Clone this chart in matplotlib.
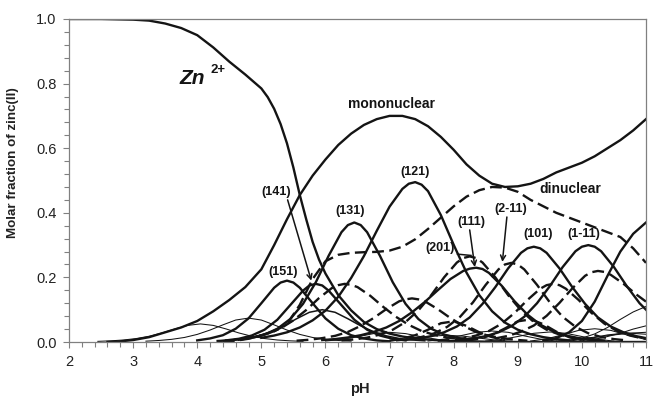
import matplotlib
matplotlib.use('Agg')
import matplotlib.pyplot as plt
from matplotlib.ticker import MultipleLocator

plt.rcParams['font.family'] = ['Liberation Sans', 'DejaVu Sans']

# ---- totals ----
ph_zn = [2.0, 2.5, 3.0, 3.25, 3.5, 3.75, 4.0, 4.25, 4.5, 4.75, 5.0, 5.1, 5.2, 5.3, 5.4, 5.5,
         5.6, 5.7, 5.8, 5.9, 6.0, 6.2, 6.4, 6.6, 6.8, 7.0, 7.2, 7.4, 7.7, 8.0, 8.5, 9.0, 11.0]
zn = [1.0, 1.0, 0.998, 0.995, 0.986, 0.972, 0.95, 0.912, 0.868, 0.828, 0.785, 0.758, 0.722,
      0.675, 0.615, 0.54, 0.455, 0.38, 0.31, 0.255, 0.212, 0.145, 0.098, 0.062, 0.04, 0.026,
      0.017, 0.011, 0.006, 0.003, 0.001, 0.0, 0.0]

ph_mono = [2.6, 2.8, 3.0, 3.25, 3.5, 3.75, 4.0, 4.25, 4.5, 4.75, 5.0, 5.2, 5.4, 5.6, 5.8, 6.0,
           6.2, 6.4, 6.6, 6.8, 7.0, 7.2, 7.4, 7.6, 7.8, 8.0, 8.2, 8.4, 8.6, 8.8, 9.0, 9.2, 9.4,
           9.6, 9.8, 10.0, 10.2, 10.4, 10.6, 10.8, 11.0]
mono = [0.0, 0.002, 0.006, 0.015, 0.03, 0.045, 0.065, 0.095, 0.13, 0.17, 0.225, 0.30, 0.38,
        0.455, 0.515, 0.565, 0.61, 0.645, 0.672, 0.69, 0.70, 0.70, 0.69, 0.668, 0.635, 0.595,
        0.55, 0.515, 0.49, 0.48, 0.482, 0.49, 0.505, 0.525, 0.54, 0.555, 0.575, 0.60, 0.625,
        0.655, 0.69]

ph_di = [4.4, 4.6, 4.8, 5.0, 5.2, 5.4, 5.6, 5.8, 6.0, 6.2, 6.4, 6.6, 6.8, 7.0, 7.2, 7.4, 7.6,
         7.8, 8.0, 8.2, 8.4, 8.6, 8.8, 9.0, 9.2, 9.4, 9.6, 9.8, 10.0, 10.2, 10.4, 10.6, 10.8, 11.0]
di = [0.0, 0.004, 0.01, 0.02, 0.033, 0.055, 0.115, 0.195, 0.25, 0.27, 0.276, 0.278, 0.279,
      0.283, 0.295, 0.318, 0.35, 0.385, 0.42, 0.45, 0.47, 0.48, 0.478, 0.465, 0.44, 0.42, 0.40,
      0.385, 0.37, 0.355, 0.34, 0.325, 0.29, 0.245]

# ---- mononuclear species (thick solid) ----
ph_151 = [4.0, 4.2, 4.4, 4.6, 4.8, 5.0, 5.2, 5.3, 5.4, 5.5, 5.6, 5.8, 6.0, 6.2, 6.4, 6.6, 6.8, 7.0]
f_151 = [0.005, 0.011, 0.021, 0.041, 0.073, 0.12, 0.168, 0.184, 0.19, 0.184, 0.168, 0.12,
         0.073, 0.041, 0.021, 0.011, 0.005, 0.002]

ph_141 = [4.45, 4.65, 4.85, 5.05, 5.25, 5.45, 5.65, 5.75, 5.85, 5.95, 6.05, 6.25, 6.45, 6.65,
          6.85, 7.05, 7.25]
f_141 = [0.005, 0.01, 0.02, 0.038, 0.069, 0.114, 0.159, 0.175, 0.18, 0.175, 0.159, 0.114,
         0.069, 0.038, 0.02, 0.01, 0.005]

ph_131 = [4.65, 4.85, 5.05, 5.25, 5.45, 5.65, 5.85, 6.05, 6.25, 6.35, 6.45, 6.55, 6.65, 6.85,
          7.05, 7.25, 7.45, 7.65, 7.85, 8.05, 8.25]
f_131 = [0.007, 0.013, 0.023, 0.041, 0.071, 0.118, 0.185, 0.267, 0.34, 0.362, 0.37, 0.362,
         0.34, 0.267, 0.185, 0.118, 0.071, 0.041, 0.023, 0.013, 0.007]

ph_121 = [5.0, 5.2, 5.4, 5.6, 5.8, 6.0, 6.2, 6.4, 6.6, 6.8, 7.0, 7.2, 7.3, 7.4, 7.5, 7.6, 7.8,
          8.0, 8.2, 8.4, 8.6, 8.8, 9.0, 9.2, 9.4, 9.6, 9.8]
f_121 = [0.013, 0.02, 0.03, 0.045, 0.067, 0.097, 0.14, 0.198, 0.266, 0.344, 0.419, 0.474,
         0.49, 0.495, 0.487, 0.467, 0.393, 0.301, 0.215, 0.145, 0.095, 0.06, 0.038, 0.024,
         0.015, 0.009, 0.005]

ph_111 = [5.95, 6.15, 6.35, 6.55, 6.75, 6.95, 7.15, 7.35, 7.55, 7.75, 7.95, 8.15, 8.25, 8.35,
          8.45, 8.55, 8.75, 8.95, 9.15, 9.35, 9.55, 9.75, 9.95, 10.15, 10.35]
f_111 = [0.006, 0.009, 0.014, 0.021, 0.031, 0.045, 0.065, 0.092, 0.124, 0.16, 0.195, 0.22,
         0.227, 0.23, 0.226, 0.214, 0.174, 0.126, 0.085, 0.054, 0.033, 0.02, 0.012, 0.007, 0.004]

ph_101 = [7.25, 7.45, 7.65, 7.85, 8.05, 8.25, 8.45, 8.65, 8.85, 9.05, 9.15, 9.25, 9.35, 9.45,
          9.65, 9.85, 10.05, 10.25, 10.45, 10.65, 10.85, 11.0]
f_101 = [0.0065, 0.011, 0.018, 0.03, 0.048, 0.076, 0.118, 0.17, 0.228, 0.276, 0.29, 0.295,
         0.29, 0.276, 0.228, 0.17, 0.118, 0.076, 0.048, 0.03, 0.018, 0.012]

ph_1m11 = [8.1, 8.3, 8.5, 8.7, 8.9, 9.1, 9.3, 9.5, 9.7, 9.9, 10.0, 10.1, 10.2, 10.3, 10.5,
           10.7, 10.9, 11.0]
f_1m11 = [0.007, 0.011, 0.018, 0.03, 0.049, 0.078, 0.12, 0.173, 0.232, 0.281, 0.295, 0.30,
          0.295, 0.281, 0.232, 0.173, 0.12, 0.10]

ph_1m21 = [9.4, 9.6, 9.8, 10.0, 10.2, 10.4, 10.6, 10.8, 11.0]
f_1m21 = [0.004, 0.012, 0.03, 0.065, 0.125, 0.205, 0.28, 0.335, 0.37]

# ---- dinuclear species (thick dashed) ----
ph_d1 = [4.3, 4.5, 4.7, 4.9, 5.1, 5.3, 5.5, 5.7, 5.9, 6.1, 6.2, 6.3, 6.4, 6.5, 6.7, 6.9, 7.1,
         7.3, 7.5, 7.7, 7.9, 8.1, 8.3]
f_d1 = [0.003, 0.005, 0.009, 0.015, 0.026, 0.042, 0.067, 0.099, 0.136, 0.167, 0.176, 0.18,
        0.177, 0.17, 0.143, 0.109, 0.078, 0.053, 0.034, 0.022, 0.014, 0.009, 0.005]

ph_d2 = [5.55, 5.75, 5.95, 6.15, 6.35, 6.55, 6.75, 6.95, 7.15, 7.25, 7.35, 7.45, 7.55, 7.75,
         7.95, 8.15, 8.35, 8.55, 8.75, 8.95, 9.15]
f_d2 = [0.004, 0.007, 0.012, 0.019, 0.031, 0.05, 0.074, 0.102, 0.126, 0.132, 0.135, 0.132,
        0.126, 0.102, 0.074, 0.05, 0.031, 0.019, 0.012, 0.007, 0.004]

ph_201 = [6.25, 6.45, 6.65, 6.85, 7.05, 7.25, 7.45, 7.65, 7.85, 8.05, 8.15, 8.25, 8.35, 8.45,
          8.65, 8.85, 9.05, 9.25, 9.45, 9.65, 9.85, 10.05, 10.25]
f_201 = [0.005, 0.008, 0.0135, 0.023, 0.038, 0.062, 0.098, 0.145, 0.2, 0.246, 0.26, 0.265,
         0.26, 0.246, 0.2, 0.145, 0.098, 0.062, 0.038, 0.023, 0.0135, 0.008, 0.005]

ph_2m11 = [7.1, 7.3, 7.5, 7.7, 7.9, 8.1, 8.3, 8.5, 8.7, 8.8, 8.9, 9.0, 9.1, 9.3, 9.5, 9.7, 9.9,
           10.1, 10.3, 10.5, 10.7]
f_2m11 = [0.005, 0.009, 0.0155, 0.027, 0.047, 0.078, 0.1225, 0.177, 0.225, 0.24, 0.245, 0.24,
          0.225, 0.177, 0.1225, 0.078, 0.047, 0.027, 0.0155, 0.009, 0.005]

ph_d5 = [7.75, 7.95, 8.15, 8.35, 8.55, 8.75, 8.95, 9.15, 9.35, 9.45, 9.55, 9.65, 9.75, 9.95,
         10.15, 10.35, 10.55, 10.75, 10.95, 11.0]
f_d5 = [0.004, 0.006, 0.011, 0.02, 0.034, 0.057, 0.09, 0.13, 0.165, 0.176, 0.18, 0.176, 0.165,
        0.13, 0.09, 0.057, 0.034, 0.02, 0.011, 0.01]

ph_d6 = [8.65, 8.85, 9.05, 9.25, 9.45, 9.65, 9.85, 10.05, 10.15, 10.25, 10.35, 10.45, 10.65,
         10.85, 11.0]
f_d6 = [0.011, 0.019, 0.032, 0.051, 0.081, 0.121, 0.166, 0.205, 0.216, 0.22, 0.217, 0.208,
        0.18, 0.147, 0.125]

ph_d7 = [7.0, 7.2, 7.4, 7.6, 7.8, 8.0, 8.2, 8.4, 8.6, 8.8]
f_d7 = [0.004, 0.01, 0.021, 0.038, 0.058, 0.064, 0.05, 0.03, 0.015, 0.006]

ph_d8 = [8.2, 8.4, 8.6, 8.8, 9.0, 9.2, 9.4, 9.6, 9.8, 10.0]
f_d8 = [0.004, 0.01, 0.022, 0.042, 0.064, 0.07, 0.055, 0.032, 0.015, 0.006]

# ---- minor species (thin solid) ----
ph_t1 = [2.45, 2.65, 2.85, 3.05, 3.25, 3.45, 3.65, 3.85, 4.05, 4.25, 4.45, 4.65, 4.85, 5.05,
         5.25, 5.45, 5.65]
f_t1 = [0.002, 0.0036, 0.0062, 0.0107, 0.0178, 0.028, 0.0404, 0.0514, 0.056, 0.0514, 0.0404,
        0.028, 0.0178, 0.0107, 0.0062, 0.0036, 0.002]

ph_t2 = [3.2, 3.4, 3.6, 3.8, 4.0, 4.2, 4.4, 4.6, 4.8, 5.0, 5.2, 5.4, 5.6, 5.8, 6.0, 6.2, 6.4]
f_t2 = [0.0026, 0.0047, 0.0082, 0.014, 0.0235, 0.037, 0.053, 0.068, 0.074, 0.068, 0.053,
        0.037, 0.0235, 0.014, 0.0082, 0.0047, 0.0026]

ph_t3 = [4.35, 4.55, 4.75, 4.95, 5.15, 5.35, 5.55, 5.75, 5.95, 6.15, 6.35, 6.55, 6.75, 6.95,
         7.15, 7.35, 7.55]
f_t3 = [0.0036, 0.0063, 0.011, 0.019, 0.032, 0.05, 0.072, 0.092, 0.10, 0.092, 0.072, 0.05,
        0.032, 0.019, 0.011, 0.0063, 0.0036]

ph_t4 = [6.0, 6.25, 6.5, 6.75, 7.0, 7.25, 7.5, 7.75, 8.0]
f_t4 = [0.003, 0.008, 0.016, 0.026, 0.03, 0.026, 0.016, 0.008, 0.003]
ph_t5 = [6.9, 7.15, 7.4, 7.65, 7.9, 8.15, 8.4, 8.65, 8.9]
f_t5 = [0.002, 0.006, 0.012, 0.018, 0.021, 0.018, 0.012, 0.006, 0.002]
ph_t6 = [7.6, 7.85, 8.1, 8.35, 8.6, 8.85, 9.1, 9.35, 9.6]
f_t6 = [0.003, 0.009, 0.019, 0.03, 0.034, 0.03, 0.019, 0.009, 0.003]
ph_t7 = [8.5, 8.75, 9.0, 9.25, 9.5, 9.75, 10.0, 10.25, 10.5]
f_t7 = [0.003, 0.008, 0.017, 0.027, 0.031, 0.027, 0.017, 0.008, 0.003]
ph_t8 = [9.2, 9.45, 9.7, 9.95, 10.2, 10.45, 10.7, 10.95, 11.0]
f_t8 = [0.003, 0.01, 0.022, 0.036, 0.041, 0.036, 0.022, 0.01, 0.008]
ph_t9 = [9.8, 10.0, 10.2, 10.4, 10.6, 10.8, 11.0]
f_t9 = [0.005, 0.012, 0.025, 0.045, 0.07, 0.093, 0.11]
ph_t10 = [10.0, 10.3, 10.6, 10.8, 11.0]
f_t10 = [0.004, 0.012, 0.027, 0.04, 0.05]
ph_t11 = [9.6, 9.9, 10.2, 10.5, 10.8, 11.0]
f_t11 = [0.003, 0.008, 0.015, 0.022, 0.028, 0.03]
ph_t12 = [9.8, 10.1, 10.4, 10.7, 11.0]
f_t12 = [0.003, 0.01, 0.022, 0.028, 0.024]

# labels: (text, pH, fraction)
species_labels = [('(151)', 5.34, 0.217), ('(141)', 5.235, 0.464), ('(131)', 6.38, 0.406),
                  ('(121)', 7.40, 0.526), ('(201)', 7.79, 0.291), ('(111)', 8.27, 0.372),
                  ('(2-11)', 8.89, 0.412), ('(101)', 9.31, 0.334), ('(1-11)', 10.03, 0.334)]
# arrows: (from, to)
arrows = [((5.41, 0.44), (5.78, 0.19)), ((8.25, 0.347), (8.33, 0.232)),
          ((8.83, 0.387), (8.76, 0.248))]

thin_curves = [(ph_t1, f_t1), (ph_t2, f_t2), (ph_t4, f_t4), (ph_t5, f_t5), (ph_t6, f_t6),
               (ph_t7, f_t7), (ph_t8, f_t8), (ph_t9, f_t9), (ph_t10, f_t10),
               (ph_t11, f_t11), (ph_t12, f_t12)]
dashed_curves = [(ph_di, di), (ph_d1, f_d1), (ph_d2, f_d2), (ph_201, f_201), (ph_2m11, f_2m11),
                 (ph_d5, f_d5), (ph_d6, f_d6), (ph_d7, f_d7), (ph_d8, f_d8)]
solid_curves = [(ph_zn, zn), (ph_mono, mono), (ph_151, f_151), (ph_141, f_141),
                (ph_131, f_131), (ph_121, f_121), (ph_111, f_111), (ph_101, f_101),
                (ph_1m11, f_1m11), (ph_1m21, f_1m21)]

ink = '#141414'
frame = '#808080'

fig = plt.figure(figsize=(6.55, 4.0), dpi=100)
ax = fig.add_axes([69 / 655, 58 / 400, 577 / 655, 323 / 400])

for x, y in thin_curves:
    ax.plot(x, y, color=ink, lw=0.75)
ax.plot(ph_t3, f_t3, color=ink, lw=1.1)
for x, y in dashed_curves:
    ax.plot(x, y, color=ink, lw=1.7, linestyle=(0, (5, 2.3)))
for x, y in solid_curves:
    ax.plot(x, y, color=ink, lw=1.7)

ax.set_xlim(2, 11)
ax.set_ylim(0, 1)
ax.xaxis.set_major_locator(MultipleLocator(1))
ax.xaxis.set_minor_locator(MultipleLocator(0.2))
ax.yaxis.set_major_locator(MultipleLocator(0.2))
ax.yaxis.set_minor_locator(MultipleLocator(0.04))
ax.yaxis.set_major_formatter(lambda v, p: f'{v:.1f}')
ax.tick_params(which='both', direction='out', color=frame, width=0.8, labelsize=10.5,
               labelcolor='#222222')
ax.tick_params(which='major', length=4)
ax.tick_params(which='minor', length=3.5)
ax.tick_params(axis='x', pad=5)
ax.tick_params(axis='y', pad=5)
for s in ax.spines.values():
    s.set_color(frame)
    s.set_linewidth(0.9)

fig.text(13 / 655, 1 - 163 / 400, 'Molar fraction of zinc(II)', rotation=90,
         ha='center', va='center', fontsize=9.6, fontweight='bold', color='#222222')
fig.text(360 / 655, 1 - 389 / 400, 'pH', ha='center', va='center', fontsize=10.5,
         fontweight='bold', color='#222222')

# annotations
ax.text(3.72, 0.80, 'Zn', fontsize=15, fontweight='bold', fontstyle='italic',
        ha='left', va='baseline', color=ink)
ax.text(4.21, 0.833, '2+', fontsize=9.5, fontweight='bold', ha='left', va='baseline',
        color=ink)
ax.text(7.03, 0.737, 'mononuclear', fontsize=10, fontweight='bold', ha='center',
        va='center', color=ink)
ax.text(9.82, 0.474, 'dinuclear', fontsize=10, fontweight='bold', ha='center',
        va='center', color=ink)
for txt, x, y in species_labels:
    ax.text(x, y, txt, fontsize=9, fontweight='bold', ha='center', va='center', color=ink)
for start, end in arrows:
    ax.annotate('', xy=end, xytext=start,
                arrowprops=dict(arrowstyle='->', color=ink, lw=1.1, mutation_scale=9,
                                shrinkA=0, shrinkB=0))
ax.plot([8.06, 8.27], [0.272, 0.268], color=ink, lw=1.1)

fig.savefig('out.png', dpi=100)
